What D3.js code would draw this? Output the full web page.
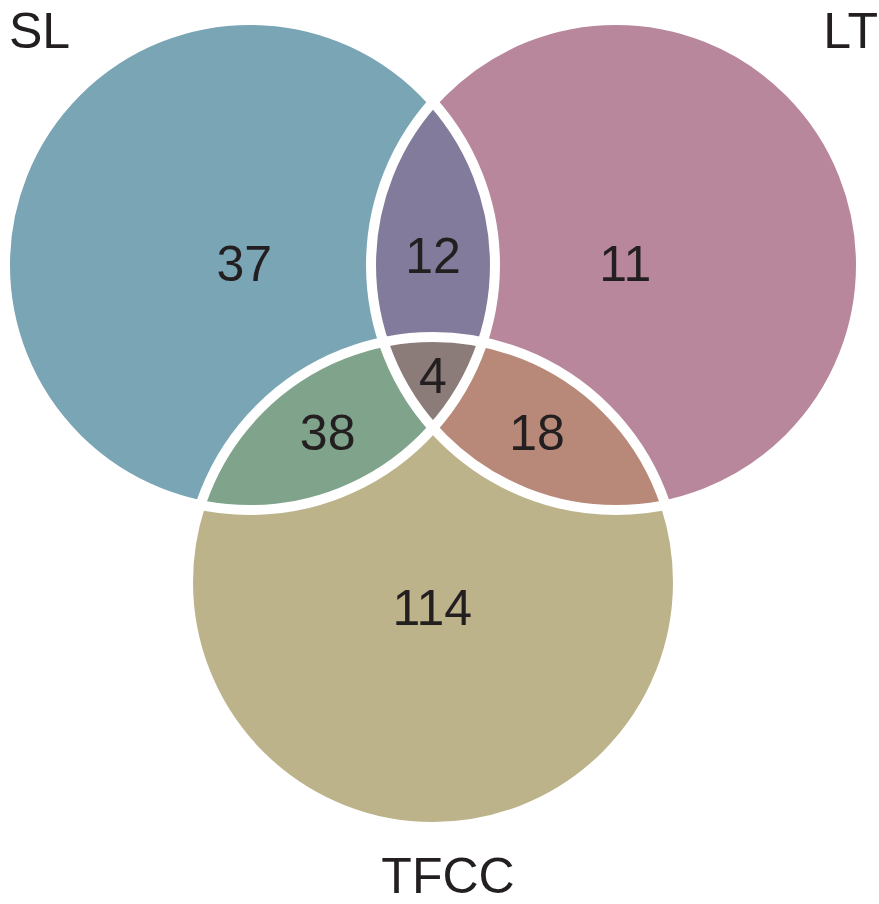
<!DOCTYPE html>
<html>
<head>
<meta charset="utf-8">
<script src="https://cdn.jsdelivr.net/npm/d3@7"></script>
<style>
  body { margin: 0; background: #fff; }
  svg text { font-family: "Liberation Sans", Arial, Helvetica, sans-serif; fill: #231f20; }
</style>
</head>
<body>
<svg id="chart"></svg>
<script>
const width = 879;
const height = 904;

// sets and region counts
const setNames = ["SL", "LT", "TFCC"];
const regionSets = [[0], [1], [2], [0, 1], [0, 2], [1, 2], [0, 1, 2]];
const regionCounts = [37, 11, 114, 12, 38, 18, 4];
const regionColors = ["#7aa5b5", "#b8879b", "#bdb38b", "#827b9b", "#80a38b", "#b88878", "#8c7c79"];

// layout in unit-circle coordinates (radius = 1)
const d = 1.494;
const centers = [[-d / 2, 0], [d / 2, 0], [0, d * Math.sqrt(3) / 2]];
const labelAnchors = [[-0.77, -0.01], [0.785, -0.01], [-0.003, 1.395], [0, -0.04], [-0.43, 0.68], [0.425, 0.68], [0, 0.45]];

const R = 245;
const x = d3.scaleLinear().domain([0, 1]).range([433, 433 + R]);
const y = d3.scaleLinear().domain([0, 1]).range([265, 265 + R]);

const svg = d3.select("#chart")
    .attr("width", width)
    .attr("height", height);

const defs = svg.append("defs");
centers.forEach((c, i) => {
    defs.append("clipPath")
        .attr("id", "clip" + i)
        .append("circle")
        .attr("cx", x(c[0]))
        .attr("cy", y(c[1]))
        .attr("r", R);
});

// Fill each region: draw the first set's circle, nested inside clips of the others
const fills = svg.append("g");
regionSets.forEach((sets, k) => {
    let g = fills.append("g");
    sets.slice(1).forEach(s => {
        g = g.append("g").attr("clip-path", `url(#clip${s})`);
    });
    const c = centers[sets[0]];
    g.append("circle")
        .attr("cx", x(c[0]))
        .attr("cy", y(c[1]))
        .attr("r", R)
        .attr("fill", regionColors[k]);
});

// White outlines separate the regions
svg.append("g")
    .selectAll("circle")
    .data(centers)
    .join("circle")
    .attr("cx", c => x(c[0]))
    .attr("cy", c => y(c[1]))
    .attr("r", R)
    .attr("fill", "none")
    .attr("stroke", "#fff")
    .attr("stroke-width", 10);

// Region counts
svg.append("g")
    .selectAll("text")
    .data(regionCounts)
    .join("text")
    .attr("x", (v, i) => x(labelAnchors[i][0]))
    .attr("y", (v, i) => y(labelAnchors[i][1]))
    .attr("dy", "0.36em")
    .attr("text-anchor", "middle")
    .attr("font-size", 50)
    .text(v => v);

// Set names
svg.append("text").attr("x", 9).attr("y", 48).attr("font-size", 50).text(setNames[0]);
svg.append("text").attr("x", 878).attr("y", 48).attr("text-anchor", "end").attr("font-size", 50).text(setNames[1]);
svg.append("text").attr("x", 448).attr("y", 893).attr("text-anchor", "middle").attr("font-size", 50).text(setNames[2]);
</script>
</body>
</html>
